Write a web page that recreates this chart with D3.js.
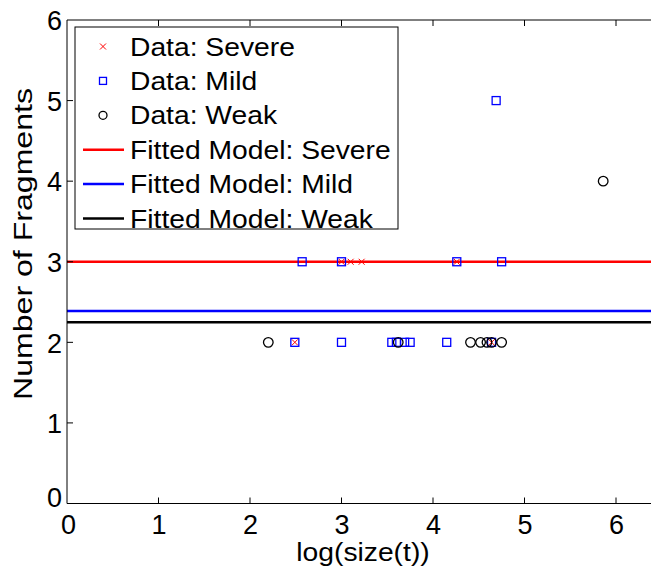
<!DOCTYPE html>
<html>
<head>
<meta charset="utf-8">
<script src="https://cdn.jsdelivr.net/npm/d3@7.9.0/dist/d3.min.js"></script>
<style>
  body { margin: 0; background: #fff; }
  svg { display: block; font-family: 'Liberation Sans', Arial, sans-serif; }
</style>
</head>
<body>
<svg id="chart" width="651" height="571"></svg>
<script>
const xTicks = [0, 1, 2, 3, 4, 5, 6];
const yTicks = [0, 1, 2, 3, 4, 5, 6];

// Data: log(size(t)) and number of fragments
const severeX = [2.49, 3.0, 3.10, 3.22, 4.26, 4.64];
const severeY = [2, 3, 3, 3, 3, 2];
const mildX = [2.49, 3.0, 3.55, 3.60, 3.69, 3.75, 4.15, 4.64, 2.57, 3.0, 4.26, 4.75, 4.69];
const mildY = [2, 2, 2, 2, 2, 2, 2, 2, 3, 3, 3, 3, 5];
const weakX = [2.20, 3.62, 4.41, 4.52, 4.59, 4.64, 4.75, 5.86];
const weakY = [2, 2, 2, 2, 2, 2, 2, 4];

// Fitted constant models
const fitSevere = 3.0;
const fitMild = 2.39;
const fitWeak = 2.25;

const legendLabels = ['Data: Severe', 'Data: Mild', 'Data: Weak',
  'Fitted Model: Severe', 'Fitted Model: Mild', 'Fitted Model: Weak'];

const margin = { left: 67, top: 20, bottom: 503.5 };
const svg = d3.select('#chart');

const x = d3.scaleLinear().domain([0, 7]).range([margin.left, margin.left + 7 * 91.5]);
const y = d3.scaleLinear().domain([0, 6]).range([margin.bottom, margin.top]);
const xRight = x(7);
const stretch = 1.13; // horizontal widening of label text

const plot = svg.append('g');

// fitted lines
const fits = [
  { v: fitSevere, color: '#ff0000' },
  { v: fitMild, color: '#0000ff' },
  { v: fitWeak, color: '#000000' },
];
plot.selectAll('line.fit')
  .data(fits)
  .join('line')
  .attr('class', 'fit')
  .attr('x1', x(0))
  .attr('x2', xRight)
  .attr('y1', (d) => y(d.v))
  .attr('y2', (d) => y(d.v))
  .attr('stroke', (d) => d.color)
  .attr('stroke-width', 2.5);

function drawCross(g, cx, cy, s) {
  g.append('path')
    .attr('d', `M${cx - s},${cy - s}L${cx + s},${cy + s}M${cx - s},${cy + s}L${cx + s},${cy - s}`)
    .attr('stroke', '#ff0000')
    .attr('stroke-width', 1)
    .attr('fill', 'none');
}
function drawSquare(g, cx, cy, s) {
  g.append('rect')
    .attr('x', cx - s).attr('y', cy - s)
    .attr('width', 2 * s).attr('height', 2 * s)
    .attr('fill', 'none')
    .attr('stroke', '#0000ff')
    .attr('stroke-width', 1.3);
}
function drawCircle(g, cx, cy, r) {
  g.append('circle')
    .attr('cx', cx).attr('cy', cy).attr('r', r)
    .attr('fill', 'none')
    .attr('stroke', '#000')
    .attr('stroke-width', 1.3);
}

severeX.forEach((v, i) => drawCross(plot, x(v), y(severeY[i]), 3));
mildX.forEach((v, i) => drawSquare(plot, x(v), y(mildY[i]), 4));
weakX.forEach((v, i) => drawCircle(plot, x(v), y(weakY[i]), 4.8));

// axes frame
const axes = svg.append('g');
axes.append('line').attr('x1', x(0)).attr('x2', xRight).attr('y1', y(0)).attr('y2', y(0)).attr('stroke', '#000');
axes.append('line').attr('x1', x(0)).attr('x2', xRight).attr('y1', y(6)).attr('y2', y(6)).attr('stroke', '#000');
axes.append('line').attr('x1', x(0)).attr('x2', x(0)).attr('y1', y(0)).attr('y2', y(6)).attr('stroke', '#000');

const tickLen = 6;
const fontTick = 27;

const xAxis = d3.axisBottom(x).tickValues(xTicks).tickSize(0).tickPadding(0).tickFormat(d3.format('d'));
const xg = svg.append('g').attr('transform', `translate(0,${y(0)})`).call(xAxis);
xg.select('.domain').remove();
xg.selectAll('text').attr('font-size', fontTick).attr('font-family', 'Liberation Sans, Arial, sans-serif')
  .attr('dy', '1.12em').attr('fill', '#000');
xg.selectAll('.tick').filter((d) => d === 0).select('text').attr('dx', 1);

// inward ticks on bottom and top
axes.selectAll('line.xt')
  .data(xTicks.filter((d) => d > 0))
  .join('line')
  .attr('x1', (d) => x(d)).attr('x2', (d) => x(d))
  .attr('y1', y(0)).attr('y2', y(0) - tickLen)
  .attr('stroke', '#000');
axes.selectAll('line.xtt')
  .data(xTicks.filter((d) => d > 0))
  .join('line')
  .attr('x1', (d) => x(d)).attr('x2', (d) => x(d))
  .attr('y1', y(6)).attr('y2', y(6) + tickLen)
  .attr('stroke', '#000');
axes.selectAll('line.yt')
  .data(yTicks.filter((d) => d > 0 && d < 6))
  .join('line')
  .attr('x1', x(0)).attr('x2', x(0) + tickLen)
  .attr('y1', (d) => y(d)).attr('y2', (d) => y(d))
  .attr('stroke', '#000');

const yAxis = d3.axisLeft(y).tickValues(yTicks).tickSize(0).tickPadding(5).tickFormat(d3.format('d'));
const yg = svg.append('g').attr('transform', `translate(${x(0)},0)`).call(yAxis);
yg.select('.domain').remove();
yg.selectAll('text').attr('font-size', fontTick).attr('font-family', 'Liberation Sans, Arial, sans-serif')
  .attr('dy', '0.36em').attr('fill', '#000');
yg.selectAll('.tick').filter((d) => d === 0).select('text').attr('dy', '0.12em');

function widen(sel, factor) {
  sel.each(function () {
    const len = this.getComputedTextLength();
    d3.select(this).attr('textLength', len * factor).attr('lengthAdjust', 'spacingAndGlyphs');
  });
}

// axis labels
const xLabel = svg.append('text')
  .attr('x', 363).attr('y', 561)
  .attr('text-anchor', 'middle')
  .attr('font-size', 25)
  .text('log(size(t))');
widen(xLabel, stretch);

const yLabel = svg.append('text')
  .attr('transform', `translate(32,244) rotate(-90)`)
  .attr('text-anchor', 'middle')
  .attr('font-size', 25)
  .text('Number of Fragments');
widen(yLabel, 312 / yLabel.node().getComputedTextLength());

// legend
const legend = svg.append('g');
legend.append('rect')
  .attr('x', 75).attr('y', 27)
  .attr('width', 323).attr('height', 202)
  .attr('fill', '#fff').attr('stroke', '#000').attr('stroke-width', 1);

const rowY = (i) => 46.5 + i * 34.4;
const legendText = legend.selectAll('text')
  .data(legendLabels)
  .join('text')
  .attr('x', 130)
  .attr('y', (d, i) => rowY(i))
  .attr('dy', '0.36em')
  .attr('font-size', 25)
  .text((d) => d);
widen(legendText, stretch);

drawCross(legend, 103, rowY(0), 3);
drawSquare(legend, 103, rowY(1), 3.5);
drawCircle(legend, 103, rowY(2), 4);
fits.forEach((f, i) => {
  legend.append('line')
    .attr('x1', 83).attr('x2', 124)
    .attr('y1', rowY(3 + i)).attr('y2', rowY(3 + i))
    .attr('stroke', f.color).attr('stroke-width', 2.5);
});
</script>
</body>
</html>
